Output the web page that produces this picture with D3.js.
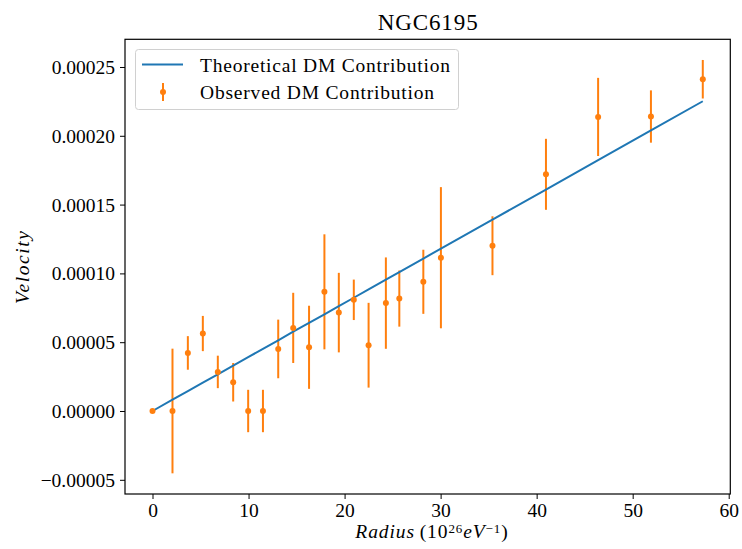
<!DOCTYPE html>
<html>
<head>
<meta charset="utf-8">
<script src="https://cdn.jsdelivr.net/npm/d3@7"></script>
<style>
  html, body { margin: 0; padding: 0; background: #fff; }
  svg text { font-family: "Liberation Serif", "Times New Roman", serif; fill: #000; }
</style>
</head>
<body>
<svg id="chart" width="742" height="549"></svg>
<script>
// Observed DM contribution
const radius = [0, 2.08, 3.68, 5.24, 6.8, 8.4, 9.96, 11.5, 13.09, 14.65, 16.3, 17.9, 19.4, 20.96, 22.5, 24.3, 25.7, 28.2, 30.03, 35.4, 40.97, 46.4, 51.9, 57.3];
const observed = [0, 0, 0.0000422, 0.0000563, 0.0000284, 0.0000209, 0, 0, 0.0000451, 0.0000604, 0.0000463, 0.0000866, 0.0000715, 0.0000808, 0.0000478, 0.0000784, 0.0000817, 0.0000939, 0.0001114, 0.0001201, 0.000172, 0.0002137, 0.000214, 0.0002411];
const observedErr = [0, 0.0000453, 0.0000122, 0.0000128, 0.0000118, 0.000014, 0.0000154, 0.0000154, 0.0000213, 0.0000255, 0.0000302, 0.0000418, 0.0000289, 0.0000147, 0.0000308, 0.0000332, 0.0000204, 0.0000233, 0.0000513, 0.0000214, 0.0000258, 0.0000284, 0.000019, 0.000014];
// Theoretical DM contribution (read at the same radii)
const theoretical = [0, 0.0000082, 0.0000145, 0.0000206, 0.0000267, 0.000033, 0.0000391, 0.0000452, 0.0000514, 0.0000576, 0.000064, 0.0000703, 0.0000762, 0.0000823, 0.0000884, 0.0000955, 0.000101, 0.0001108, 0.000118, 0.0001391, 0.0001609, 0.0001823, 0.0002039, 0.0002251];
const xTicks = [0, 10, 20, 30, 40, 50, 60];
const yTicks = [-0.00005, 0, 0.00005, 0.0001, 0.00015, 0.0002, 0.00025];
const titleText = "NGC6195";
const legendLabels = ["Theoretical DM Contribution", "Observed DM Contribution"];

const blue = "#1f77b4", orange = "#ff7f0e";
const svg = d3.select("#chart");
const L = 125, R = 730.3, T = 39.3, B = 494;

const pts = radius.map((r, i) => ({x: r, y: observed[i], e: observedErr[i], t: theoretical[i]}));
const xmin = d3.min(radius), xmax = d3.max(radius);
const ylo = d3.min(pts, d => Math.min(d.y - d.e, d.t)), yhi = d3.max(pts, d => Math.max(d.y + d.e, d.t));
const xm = (xmax - xmin) * 0.05, ym = (yhi - ylo) * 0.05;
const x = d3.scaleLinear().domain([xmin - xm, xmax + xm]).range([L, R]);
const y = d3.scaleLinear().domain([ylo - ym, yhi + ym]).range([B, T]);

const fs = 19.5;
// x axis
const xAxis = svg.append("g").attr("transform", `translate(0,${B})`)
  .call(d3.axisBottom(x).tickValues(xTicks).tickFormat(d3.format("d")).tickSize(5).tickPadding(4));
// y axis
const yfmt = v => (v < 0 ? "\u2212" : "") + Math.abs(v).toFixed(5);
const yAxis = svg.append("g").attr("transform", `translate(${L},0)`)
  .call(d3.axisLeft(y).tickValues(yTicks).tickFormat(yfmt).tickSize(5).tickPadding(5));
[xAxis, yAxis].forEach(g => {
  g.select(".domain").remove();
  g.selectAll(".tick line").attr("stroke", "#000").attr("stroke-width", 1);
  g.selectAll(".tick text").style("font-family", '"Liberation Serif", serif').style("font-size", fs + "px").attr("fill", "#000");
});
xAxis.selectAll(".tick text").attr("dy", "0.72em");
yAxis.selectAll(".tick text").attr("dy", "0.33em");

// error bars
const g = svg.append("g");
g.selectAll("line.err").data(pts.filter(d => d.e > 0)).join("line")
  .attr("class", "err")
  .attr("x1", d => x(d.x)).attr("x2", d => x(d.x))
  .attr("y1", d => y(d.y - d.e)).attr("y2", d => y(d.y + d.e))
  .attr("stroke", orange).attr("stroke-width", 2);
// theoretical line
g.append("path").datum(pts)
  .attr("d", d3.line().x(d => x(d.x)).y(d => y(d.t)))
  .attr("fill", "none").attr("stroke", blue).attr("stroke-width", 2);
// markers
g.selectAll("circle.pt").data(pts).join("circle")
  .attr("class", "pt")
  .attr("cx", d => x(d.x)).attr("cy", d => y(d.y)).attr("r", 3)
  .attr("fill", orange);

// frame
svg.append("rect").attr("x", L).attr("y", T).attr("width", R - L).attr("height", B - T)
  .attr("fill", "none").attr("stroke", "#000").attr("stroke-width", 1.2);

// title
svg.append("text").attr("x", (L + R) / 2).attr("y", 30).attr("text-anchor", "middle")
  .attr("textLength", 100).attr("lengthAdjust", "spacing")
  .style("font-size", "23px").text(titleText);

// x label
const xl = svg.append("text").attr("x", 432).attr("y", 538).attr("text-anchor", "middle")
  .style("font-size", fs + "px").style("letter-spacing", "0.9px");
xl.append("tspan").style("font-style", "italic").text("Radius");
xl.append("tspan").text("\u2009(10");
xl.append("tspan").attr("dy", -5).style("font-size", "13px").text("26");
xl.append("tspan").attr("dy", 5).style("font-style", "italic").text("eV");
xl.append("tspan").attr("dy", -5).style("font-size", "13px").text("\u22121");
xl.append("tspan").attr("dy", 5).text(")");

// y label
svg.append("text").attr("transform", `translate(29,${(T + B) / 2}) rotate(-90)`)
  .attr("text-anchor", "middle").style("font-size", fs + "px").style("font-style", "italic")
  .style("letter-spacing", "1.6px")
  .text("Velocity");

// legend
const lg = svg.append("g");
lg.append("rect").attr("x", 135.5).attr("y", 49.5).attr("width", 323).attr("height", 60).attr("rx", 3)
  .attr("fill", "#fff").attr("fill-opacity", 0.8).attr("stroke", "#d0d0d0").attr("stroke-width", 1);
lg.append("line").attr("x1", 142).attr("x2", 183).attr("y1", 64.5).attr("y2", 64.5)
  .attr("stroke", blue).attr("stroke-width", 2);
lg.append("line").attr("x1", 163).attr("x2", 163).attr("y1", 83).attr("y2", 101)
  .attr("stroke", orange).attr("stroke-width", 2);
lg.append("circle").attr("cx", 163).attr("cy", 92).attr("r", 3).attr("fill", orange);
lg.append("text").attr("x", 200).attr("y", 71.5).style("font-size", fs + "px")
  .attr("textLength", 250).attr("lengthAdjust", "spacing").text(legendLabels[0]);
lg.append("text").attr("x", 200).attr("y", 98.5).style("font-size", fs + "px")
  .attr("textLength", 234).attr("lengthAdjust", "spacing").text(legendLabels[1]);
</script>
</body>
</html>
